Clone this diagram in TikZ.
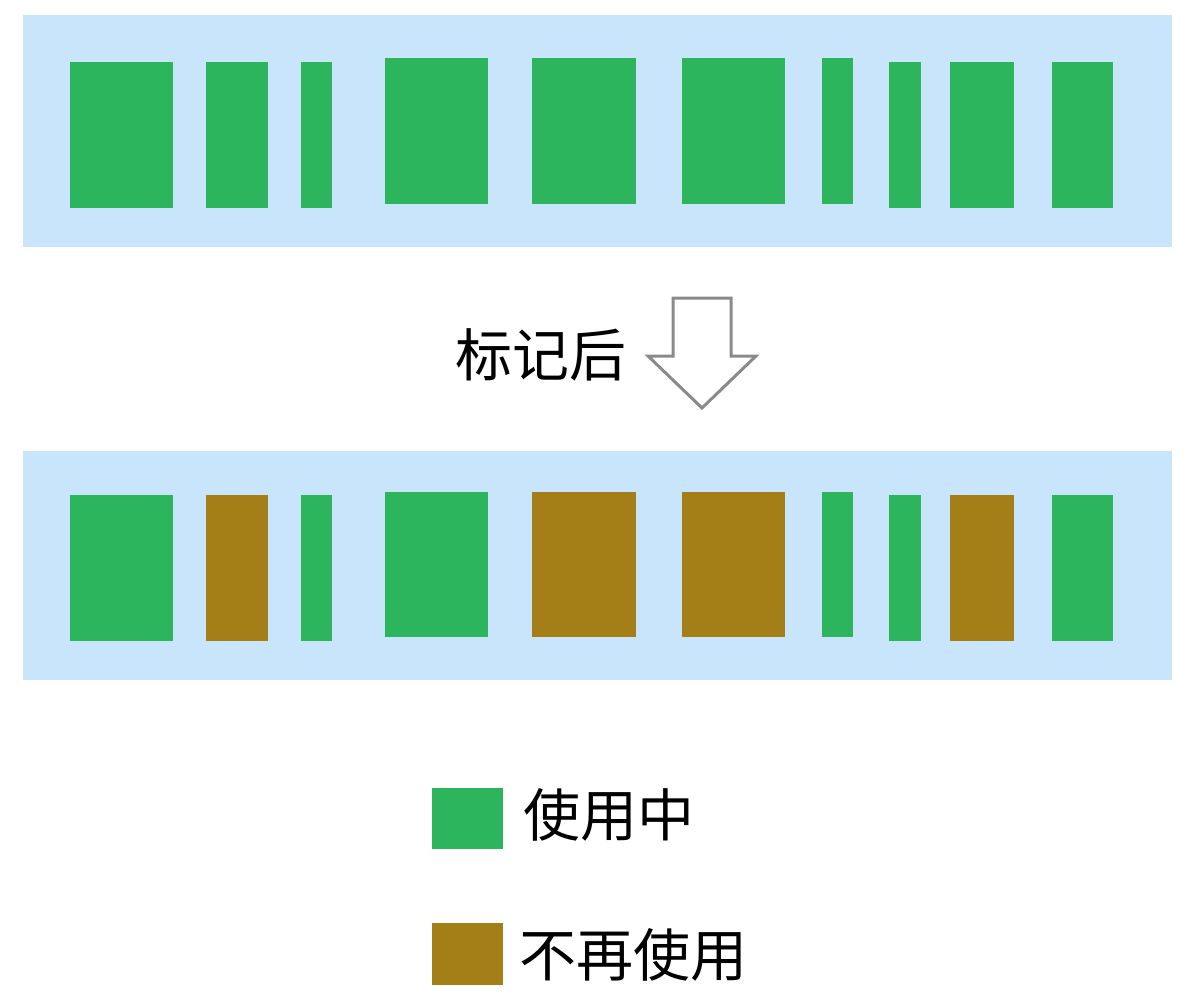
\documentclass[tikz,border=0pt]{standalone}
\usepackage{fontspec}
\newfontfamily\cjk{Noto Sans CJK SC}
\definecolor{panelblue}{HTML}{C9E5FB}
\definecolor{usegreen}{HTML}{2DB55D}
\definecolor{oldbrown}{HTML}{A47E16}
\definecolor{arrowgray}{HTML}{8A8A8A}
\tikzset{
  panel/.style={fill=panelblue, draw=none},
  inuse/.style={fill=usegreen, draw=none},
  unused/.style={fill=oldbrown, draw=none},
  lbl/.style={font=\cjk\fontsize{57}{60}\selectfont, text=black, inner sep=0pt},
  hollowarrow/.style={draw=arrowgray, line width=3pt, fill=white, line join=miter}
}
\begin{document}
\begin{tikzpicture}[x=1pt,y=-1pt]
\useasboundingbox (0,0) rectangle (1203,996);
% top panel
\fill[panel] (23,15) rectangle (1172,247);
\fill[inuse] (70,62) rectangle (173,208);
\fill[inuse] (206,62) rectangle (268,208);
\fill[inuse] (301,62) rectangle (332,208);
\fill[inuse] (385,58) rectangle (488,204);
\fill[inuse] (532,58) rectangle (636,204);
\fill[inuse] (682,58) rectangle (785,204);
\fill[inuse] (822,58) rectangle (853,204);
\fill[inuse] (889,62) rectangle (921,208);
\fill[inuse] (950,62) rectangle (1014,208);
\fill[inuse] (1052,62) rectangle (1113,208);
% arrow and label
\node[lbl, anchor=east] (mark) at (627,355) {标记后};
\draw[hollowarrow] (673,298) -- (731,298) -- (731,356) -- (756,356) -- (702,408) -- (648,356) -- (673,356) -- cycle;
% bottom panel
\fill[panel] (23,451) rectangle (1172,680);
\fill[inuse] (70,495) rectangle (173,641);
\fill[unused] (206,495) rectangle (268,641);
\fill[inuse] (301,495) rectangle (332,641);
\fill[inuse] (385,492) rectangle (488,637);
\fill[unused] (532,492) rectangle (636,637);
\fill[unused] (682,492) rectangle (785,637);
\fill[inuse] (822,492) rectangle (853,637);
\fill[inuse] (889,495) rectangle (921,641);
\fill[unused] (950,495) rectangle (1014,641);
\fill[inuse] (1052,495) rectangle (1113,641);
% legend
\fill[inuse] (432,788) rectangle (503,849);
\node[lbl, anchor=west] (legA) at (523,815) {使用中};
\fill[unused] (432,923) rectangle (503,985);
\node[lbl, anchor=west] (legB) at (519,955) {不再使用};
\end{tikzpicture}
\end{document}
